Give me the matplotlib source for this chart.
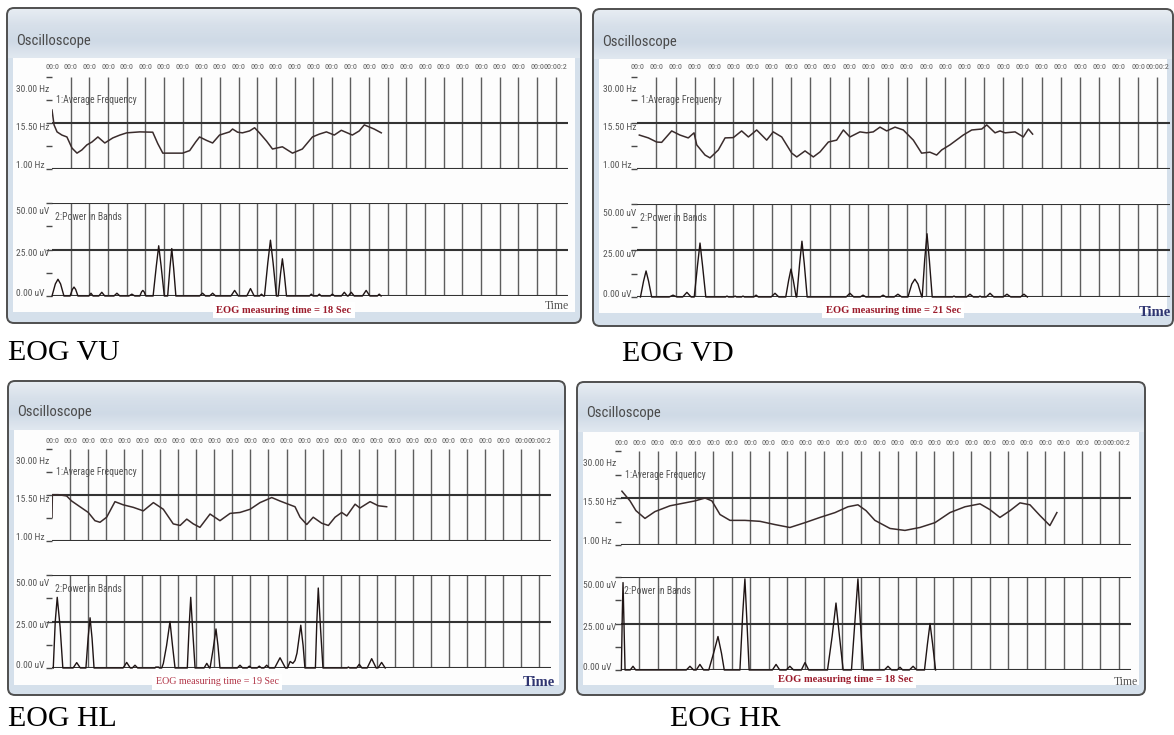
import numpy as np
import matplotlib
matplotlib.use('Agg')
import matplotlib.pyplot as plt
from matplotlib import font_manager, transforms
from matplotlib.patches import FancyBboxPatch, Rectangle
from matplotlib.colors import LinearSegmentedColormap

# ---------------- data ----------------
captions = ['EOG VU', 'EOG VD', 'EOG HL', 'EOG HR']
measure_secs = [18, 21, 19, 18]
time_ticks = list(range(28))
time_tick_labels = ['00:0'] * 27 + ['00:00:2']
grid_t = list(range(1, 28))
T_MAX = 27.66
freq_limits = (1.0, 30.0)
freq_lines = [15.5, 1.0]
freq_minor = [1.0, 8.25, 15.5, 22.75, 30.0]
freq_label_vals = [30.0, 15.5, 1.0]
freq_labels = ['30.00 Hz', '15.50 Hz', '1.00 Hz']
pow_limits = (0.0, 50.0)
pow_lines = [50.0, 25.0, 0.0]
pow_minor = [0.0, 12.5, 25.0, 37.5, 50.0]
pow_label_vals = [50.0, 25.0, 0.0]
pow_labels = ['50.00 uV', '25.00 uV', '0.00 uV']

vu_freq_t = [0.00, 0.11, 0.27, 0.53, 0.80, 1.07, 1.34, 1.60, 1.87, 2.14, 2.46, 2.83, 3.26, 3.64, 4.01,
             4.71, 5.40, 5.67, 5.94, 7.00, 7.38, 7.70, 7.91, 8.29, 8.61, 8.98, 9.52, 9.68, 9.95, 10.21,
             10.59, 10.86, 11.12, 11.50, 11.82, 12.35, 12.89, 13.42, 13.96, 14.33, 14.71, 15.13, 15.51,
             16.10, 16.47, 16.74, 17.27, 17.65]
vu_freq_hz = [19.6, 14.9, 12.7, 11.7, 11.1, 7.6, 6.0, 7.0, 8.6, 9.5, 11.1, 9.2, 10.8, 11.7, 12.4,
              12.7, 12.6, 9.0, 6.0, 6.0, 6.8, 9.5, 11.1, 10.0, 9.2, 11.7, 12.7, 13.6, 12.6, 12.4,
              13.0, 14.0, 12.4, 9.8, 7.3, 8.0, 6.0, 7.3, 11.1, 12.0, 12.7, 11.7, 13.2,
              11.7, 13.0, 14.9, 13.6, 12.4]
vu_pow_t = [0.00, 0.18, 0.32, 0.46, 0.64, 0.97, 1.09, 1.18, 1.27, 1.39, 1.98, 2.09, 2.20,
            2.51, 2.67, 2.83, 3.32, 3.48, 3.64, 4.12, 4.28, 4.44, 4.71, 4.80, 4.87, 4.94, 5.03,
            5.42, 5.59, 5.72, 5.85, 6.02, 6.20, 6.32, 6.42, 6.52, 6.64, 7.91, 8.07, 8.23,
            8.45, 8.61, 8.77, 9.59, 9.79, 9.99, 10.44, 10.64, 10.84, 11.13, 11.23, 11.33,
            11.39, 11.57, 11.71, 11.85, 12.03, 12.13, 12.25, 12.35, 12.45, 12.57,
            13.80, 13.90, 14.00, 14.23, 14.33, 14.43, 14.91, 15.03, 15.15, 15.51, 15.67, 15.83,
            15.88, 16.04, 16.20, 16.64, 16.84, 17.04, 17.44, 17.54, 17.64]
vu_pow_uv = [0, 6.5, 9, 6.5, 0, 0, 3.5, 4.8, 3.5, 0, 0, 1.5, 0,
             0, 2, 0, 0, 1.5, 0, 0, 1, 0, 0, 2.2, 3, 2.2, 0,
             0, 16, 27, 16, 0, 0, 15, 25.5, 15, 0, 0, 1.5, 0,
             0, 1.5, 0, 0, 3, 0, 0, 4, 0, 0, 1, 0,
             0, 18, 30, 18, 0, 0, 12, 20, 12, 0,
             0, 1, 0, 0, 1, 0, 0, 1, 0, 0, 2, 0,
             0, 2, 0, 0, 3, 0, 0, 1, 0]

vd_freq_t = [0.12, 0.59, 1.02, 1.28, 1.80, 2.23, 2.66, 2.96, 3.10, 3.53, 3.79, 4.22, 4.57, 5.00, 5.43,
             5.78, 6.21, 6.73, 7.07, 7.51, 8.03, 8.29, 8.72, 9.15, 9.50, 9.93, 10.36, 10.71, 11.05, 11.57,
             11.92, 12.26, 12.61, 12.96, 13.39, 13.82, 14.34, 14.77, 15.20, 15.55, 15.81, 16.24, 16.93,
             17.37, 17.89, 18.15, 18.58, 18.84, 19.10, 19.62, 20.05, 20.31, 20.53]
vd_freq_hz = [11.7, 10.8, 9.5, 9.4, 13.0, 11.7, 10.8, 12.4, 8.6, 5.4, 4.5, 7.0, 10.8, 10.9, 13.0,
              11.1, 13.3, 10.1, 12.7, 11.1, 6.0, 4.8, 6.7, 4.8, 6.4, 9.5, 10.1, 13.3, 11.1, 12.7,
              12.4, 12.7, 14.2, 13.0, 14.2, 13.3, 10.1, 6.0, 6.3, 5.4, 7.0, 8.6, 11.7,
              13.3, 13.6, 14.9, 12.4, 13.0, 12.4, 12.7, 11.1, 13.6, 12.0]
vd_pow_t = [0.18, 0.34, 0.47, 0.60, 0.76, 1.67, 1.87, 2.07, 2.37, 2.59, 2.81,
            2.97, 3.14, 3.27, 3.40, 3.57, 4.59, 4.67, 4.75, 5.01, 5.09, 5.17, 5.42, 5.50, 5.58,
            6.06, 6.18, 6.30, 6.96, 7.16, 7.36, 7.72, 7.87, 7.99, 8.11, 8.26,
            8.29, 8.44, 8.56, 8.68, 8.83, 10.85, 11.05, 11.25, 11.58, 11.73, 11.88,
            12.62, 12.77, 12.92, 13.34, 13.54, 13.74, 14.06, 14.26, 14.42, 14.58, 14.78,
            14.80, 14.93, 15.05, 15.17, 15.32, 16.37, 16.45, 16.53, 17.10, 17.28, 17.46,
            17.72, 17.80, 17.88, 18.12, 18.32, 18.52, 19.00, 19.20, 19.40, 19.90, 20.08, 20.26]
vd_pow_uv = [0, 8.5, 14, 8.5, 0, 0, 1, 0, 0, 2.5, 0,
             0, 17, 29, 17, 0, 0, 0.5, 0, 0, 0.5, 0, 0, 0.5, 0,
             0, 1, 0, 0, 2, 0, 0, 9, 15, 9, 0,
             0, 18, 30, 18, 0, 0, 2, 0, 0, 1, 0,
             0, 1, 0, 0, 1.5, 0, 0, 7, 9.6, 7, 0,
             0, 20, 34, 20, 0, 0, 0.5, 0, 0, 1.5, 0,
             0, 0.5, 0, 0, 2, 0, 0, 1.5, 0, 0, 1.5, 0]

hl_freq_t = [0.00, 0.02, 0.35, 0.81, 1.09, 1.55, 2.01, 2.38, 2.66, 3.03, 3.49, 3.95, 4.51, 5.06, 5.62,
             6.17, 6.72, 7.10, 7.47, 7.83, 8.20, 8.76, 9.31, 9.87, 10.42, 10.98, 11.53, 12.18, 12.64, 13.19,
             13.47, 13.75, 14.12, 14.48, 14.95, 15.32, 15.69, 16.06, 16.34, 16.80, 17.07, 17.63, 18.09, 18.55]
hl_freq_hz = [8.5, 15.6, 15.6, 15.2, 13.6, 11.8, 10.0, 7.4, 6.9, 8.5, 13.4, 12.4, 11.6, 10.5, 13.1,
              11.0, 6.4, 5.9, 7.9, 6.4, 5.3, 9.5, 7.4, 9.7, 10.0, 11.0, 13.1, 14.7, 13.6, 12.4,
              11.8, 8.5, 6.2, 8.5, 6.6, 5.9, 8.5, 10.0, 8.9, 12.6, 11.4, 13.4, 12.1, 11.8]
hl_pow_t = [0.07, 0.18, 0.29, 0.45, 0.60, 1.17, 1.37, 1.57, 1.88, 2.00, 2.11, 2.22, 2.33,
            3.94, 4.14, 4.34, 4.45, 4.60, 4.75, 5.71, 5.75, 5.91, 5.95,
            6.08, 6.17, 6.35, 6.54, 6.68, 6.82, 7.50, 7.60, 7.69, 7.80, 7.93,
            8.43, 8.58, 8.73, 8.76, 8.93, 9.09, 9.20, 9.31, 10.27, 10.42, 10.57,
            10.82, 10.94, 11.06, 11.37, 11.49, 11.61, 11.75, 11.90, 12.05, 12.34, 12.64, 12.94,
            13.05, 13.20, 13.35, 13.47, 13.58, 13.79, 13.92, 14.02,
            14.60, 14.68, 14.76, 14.88, 15.02, 16.35, 16.43, 16.51, 16.88, 17.03, 17.18,
            17.47, 17.72, 17.97, 18.07, 18.27, 18.47]
hl_pow_uv = [0, 25, 38, 22, 0, 0, 2.9, 0, 0, 16, 27, 16, 0,
             0, 3, 0, 0, 1.5, 0, 0, 0.5, 0.5, 0,
             0, 2.4, 12, 25, 12, 0, 0, 22, 38, 20, 0,
             0, 2.5, 0, 0, 10, 21, 12, 0, 0, 1.5, 0,
             0, 1, 0, 0, 1, 0, 0, 1.5, 0, 0, 5.5, 0,
             0, 3.5, 2.5, 4, 8, 23, 12, 0,
             0, 25, 43, 22, 0, 0, 0.5, 0, 0, 2, 0,
             0, 5, 0, 0, 3, 0]

hr_freq_t = [0.05, 0.27, 0.49, 0.81, 1.30, 1.84, 2.66, 3.47, 4.01, 4.56, 4.93, 5.37, 5.91, 6.72, 7.54,
             8.35, 9.16, 9.98, 10.79, 11.61, 12.31, 12.85, 13.29, 13.77, 14.59, 15.40, 16.21, 17.03, 17.84,
             18.66, 19.47, 20.01, 20.55, 21.10, 21.64, 22.18, 22.72, 23.26, 23.64]
hr_freq_hz = [17.6, 16.1, 14.6, 11.6, 9.2, 11.3, 13.1, 14.0, 14.6, 15.5, 14.6, 10.4, 8.6, 8.6, 8.3,
              7.3, 6.4, 7.9, 9.5, 11.0, 12.8, 13.4, 11.6, 8.6, 6.1, 5.5, 6.4, 7.9, 11.0,
              12.8, 13.7, 11.9, 9.5, 11.6, 14.0, 13.4, 10.1, 7.0, 11.0]
hr_pow_t = [0.02, 0.07, 0.11, 0.15, 0.22, 0.50, 0.65, 0.80, 3.54, 3.74, 3.94, 4.08, 4.28, 4.48,
            4.76, 5.02, 5.26, 5.45, 5.60, 6.45, 6.60, 6.72, 6.82, 6.95,
            8.21, 8.41, 8.61, 8.96, 9.16, 9.36, 9.78, 9.98, 10.18,
            11.20, 11.45, 11.66, 11.85, 12.05, 12.50, 12.70, 12.85, 12.98, 13.15,
            14.28, 14.48, 14.68, 14.98, 15.13, 15.28, 15.64, 15.84, 16.04,
            16.46, 16.62, 16.76, 16.90, 17.06]
hr_pow_uv = [0, 30, 47, 30, 0, 0, 2, 0, 0, 2, 0, 0, 3, 0,
             0, 9, 18, 9, 0, 0, 30, 49, 28, 0,
             0, 3, 0, 0, 2, 0, 0, 4, 0,
             0, 18, 36, 18, 0, 0, 28, 49, 26, 0,
             0, 2, 0, 0, 1.5, 0, 0, 2, 0,
             0, 14, 25, 14, 0]

# ---------------- fonts ----------------
_names = {f.name for f in font_manager.fontManager.ttflist}
def pick(*cands):
    for c in cands:
        if c in _names:
            return c
    return 'DejaVu Sans'
NARROW = pick('Liberation Sans Narrow', 'Roboto Condensed', 'Open Sans Condensed',
              'DejaVu Sans Condensed', 'Liberation Sans')
SERIF = pick('Liberation Serif', 'DejaVu Serif')

# ---------------- layout (pixels) ----------------
LAYOUT = [
    dict(box=(7, 8, 581, 323), hdr=58, wbot=312, ax_l=52, ax_r=568, f_top=77, f_bot=169,
         p_top=203, p_bot=296, lab_x=16, tick_y=67, title=(16, 41), meas=(284, 310),
         meas_bold=True, meas_col='#9c1c2c', time=(557, 306), time_bold=False, cap=(8, 360)),
    dict(box=(593, 9, 1173, 326), hdr=59, wbot=313, ax_l=637, ax_r=1170, f_top=77, f_bot=169,
         p_top=204, p_bot=297, lab_x=603, tick_y=67, title=(602, 42), meas=(893, 310),
         meas_bold=True, meas_col='#9c1c2c', time=(1155, 312), time_bold=True, cap=(622, 361)),
    dict(box=(8, 381, 565, 695), hdr=430, wbot=685, ax_l=52, ax_r=551, f_top=449, f_bot=541,
         p_top=575, p_bot=668, lab_x=16, tick_y=441, title=(17, 412), meas=(217, 682),
         meas_bold=False, meas_col='#b23446', time=(539, 682), time_bold=True, cap=(8, 726)),
    dict(box=(577, 382, 1145, 695), hdr=432, wbot=685, ax_l=621, ax_r=1131, f_top=451, f_bot=545,
         p_top=577, p_bot=670, lab_x=583, tick_y=443, title=(586, 413), meas=(845, 680),
         meas_bold=True, meas_col='#9c1c2c', time=(1126, 682), time_bold=False, cap=(670, 726)),
]

W, H = 1174, 735
fig = plt.figure(figsize=(W / 100, H / 100), dpi=100)
fig.patch.set_facecolor('white')
bg = fig.add_axes([0, 0, 1, 1])
bg.axis('off')

hdr_cmap = LinearSegmentedColormap.from_list('hdr', ['#e8edf3', '#d7e0ea', '#cfdae6', '#e1e8f0'])
grad = np.linspace(0, 1, 64).reshape(-1, 1)


def add_ax(x0, y0, x1, y1):
    return fig.add_axes([x0 / W, 1 - y1 / H, (x1 - x0) / W, (y1 - y0) / H])


def style_ax(ax, ylim, minor):
    ax.set_xlim(0, T_MAX)
    ax.set_ylim(*ylim)
    ax.patch.set_visible(False)
    for s in ax.spines.values():
        s.set_visible(False)
    ax.set_xticks([])
    ax.set_yticks(minor)
    ax.set_yticklabels([])
    ax.tick_params(axis='y', length=4, width=1.0, color='#4a4a4a', direction='out', pad=1)


def draw_panel(L, ft, fv, pt, pv, caption, secs):
    x0, y0, x1, y1 = L['box']
    box = FancyBboxPatch((x0, y0), x1 - x0, y1 - y0, boxstyle='round,pad=0,rounding_size=7',
                         fc='#d5e0eb', ec='none', zorder=1)
    bg.add_patch(box)
    im = bg.imshow(grad, cmap=hdr_cmap, extent=(x0, x1, L['hdr'], y0), origin='upper',
                   aspect='auto', zorder=1.5, interpolation='bilinear')
    im.set_clip_path(box)
    bg.add_patch(Rectangle((x0 + 6, L['hdr']), x1 - x0 - 12, L['wbot'] - L['hdr'],
                           fc='#fdfdfd', ec='none', zorder=2))
    bg.add_patch(FancyBboxPatch((x0, y0), x1 - x0, y1 - y0, boxstyle='round,pad=0,rounding_size=7',
                                fc='none', ec='#4f4f4f', lw=1.4, zorder=6))
    bg.text(L['title'][0], L['title'][1], 'Oscilloscope', fontfamily=NARROW, fontsize=10.5,
            color='#4a4a4a', ha='left', va='center', zorder=7)

    # frequency strip
    fa = add_ax(L['ax_l'], L['f_top'], L['ax_r'], L['f_bot'])
    style_ax(fa, freq_limits, freq_minor)
    fa.vlines(grid_t, freq_limits[0], freq_limits[1], color='#5e5e5e', lw=1.0)
    fa.hlines(freq_lines, -0.1, T_MAX, color='#333333', lw=1.5)
    fa.plot(ft, fv, color='#3a2c2c', lw=1.1)
    fa.text(0.2, 22.75, '1:Average Frequency', fontfamily=NARROW, fontsize=7, color='#555555',
            ha='left', va='center')

    # power strip
    pa = add_ax(L['ax_l'], L['p_top'], L['ax_r'], L['p_bot'])
    style_ax(pa, pow_limits, pow_minor)
    pa.vlines(grid_t, pow_limits[0], pow_limits[1], color='#5e5e5e', lw=1.0)
    pa.hlines(pow_lines, -0.1, T_MAX, color='#333333', lw=1.5)
    pa.plot(pt, pv, color='#1f1414', lw=1.0, clip_on=False)
    pa.text(0.15, 42.5, '2:Power in Bands', fontfamily=NARROW, fontsize=7, color='#555555',
            ha='left', va='center')

    # top time tick labels
    tr = transforms.blended_transform_factory(fa.transData, bg.transData)
    for t, lab in zip(time_ticks, time_tick_labels):
        bg.text(t, L['tick_y'], lab, transform=tr, fontfamily=NARROW, fontsize=5.8,
                color='#5a5a5a', ha='center', va='center', zorder=7)

    # left value labels
    for ax, vals, labs, offs in ((fa, freq_label_vals, freq_labels, (-12, -4, 3)),
                                 (pa, pow_label_vals, pow_labels, (-9, -4, 2))):
        trl = transforms.blended_transform_factory(bg.transData, ax.transData)
        for v, lab, o in zip(vals, labs, offs):
            bg.text(L['lab_x'], v, lab, transform=transforms.offset_copy(trl, fig=fig, y=o, units='dots'),
                    fontfamily=NARROW, fontsize=6.8, color='#555555', ha='left', va='center', zorder=7)

    bg.text(L['meas'][0], L['meas'][1], f'EOG measuring time = {secs} Sec', fontfamily=SERIF,
            fontsize=7.6 if L['meas_bold'] else 7.2,
            fontweight='bold' if L['meas_bold'] else 'normal', color=L['meas_col'],
            ha='center', va='center', zorder=7,
            bbox=dict(fc='white', ec='none', pad=2.5))
    if L['time_bold']:
        bg.text(L['time'][0], L['time'][1], 'Time', fontfamily=SERIF, fontsize=10.5, fontweight='bold',
                color='#2e3470', ha='center', va='center', zorder=7)
    else:
        bg.text(L['time'][0], L['time'][1], 'Time', fontfamily=SERIF, fontsize=8.5,
                color='#555555', ha='center', va='center', zorder=7)

    bg.text(L['cap'][0], L['cap'][1], caption, fontfamily=SERIF, fontsize=21.5, color='black',
            ha='left', va='baseline', zorder=7)


series = [
    (vu_freq_t, vu_freq_hz, vu_pow_t, vu_pow_uv),
    (vd_freq_t, vd_freq_hz, vd_pow_t, vd_pow_uv),
    (hl_freq_t, hl_freq_hz, hl_pow_t, hl_pow_uv),
    (hr_freq_t, hr_freq_hz, hr_pow_t, hr_pow_uv),
]
for L, (ft, fv, pt, pv), cap, secs in zip(LAYOUT, series, captions, measure_secs):
    draw_panel(L, ft, fv, pt, pv, cap, secs)

bg.set_xlim(0, W)
bg.set_ylim(H, 0)
fig.savefig('out.png', dpi=100, facecolor='white')
